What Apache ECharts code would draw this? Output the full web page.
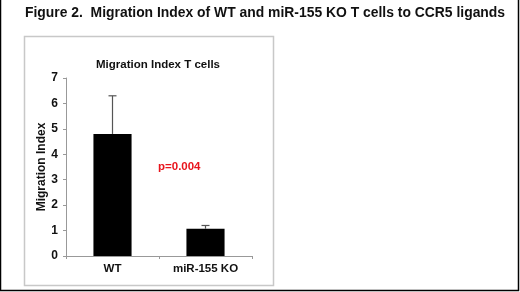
<!DOCTYPE html>
<html>
<head>
<meta charset="utf-8">
<script src="https://cdn.jsdelivr.net/npm/echarts@6/dist/echarts.min.js"></script>
<style>
  html, body { margin: 0; padding: 0; background: #fff; }
  #chart { width: 520px; height: 292px; }
</style>
</head>
<body>
<div id="chart"></div>
<script>
// data
var categories = ["WT", "miR-155 KO"];
var meanValues = [4.8, 1.07];
var upperErr = [6.3, 1.2];   // top of the error whisker
var yTicks = [0, 1, 2, 3, 4, 5, 6, 7];

var font = "Liberation Sans, Arial, sans-serif";
var chart = echarts.init(document.getElementById("chart"));

chart.setOption({
  backgroundColor: "#fff",
  animation: false,
  title: [
    {
      text: "Figure 2.  Migration Index of WT and miR-155 KO T cells to CCR5 ligands",
      left: 25, top: 6, padding: 0,
      textStyle: { fontFamily: font, fontSize: 13.9, fontWeight: "bold", color: "#111" }
    },
    {
      text: "Migration Index T cells",
      left: 158, top: 59, padding: 0, textAlign: "center",
      textStyle: { fontFamily: font, fontSize: 11.5, fontWeight: "bold", color: "#111" }
    },
    {
      text: "p=0.004",
      left: 158, top: 161, padding: 0,
      textStyle: { fontFamily: font, fontSize: 11.5, fontWeight: "bold", color: "#e8141c" }
    }
  ],
  grid: { left: 66, right: 268, top: 78, bottom: 36 },
  xAxis: {
    type: "category",
    data: categories,
    axisLine: { lineStyle: { color: "#999", width: 1 } },
    axisTick: { show: true, length: 3, lineStyle: { color: "#999" } },
    axisLabel: { margin: 7, fontFamily: font, fontSize: 11.5, fontWeight: "bold", color: "#111" }
  },
  yAxis: {
    type: "value",
    min: yTicks[0], max: yTicks[yTicks.length - 1], interval: 1,
    name: "Migration Index",
    nameLocation: "middle",
    nameGap: 17,
    nameTextStyle: { fontFamily: font, fontSize: 12, fontWeight: "bold", color: "#111" },
    axisLine: { show: true, lineStyle: { color: "#999", width: 1 } },
    axisTick: { show: true, length: 3, lineStyle: { color: "#999" } },
    splitLine: { show: false },
    axisLabel: { margin: 8, fontFamily: font, fontSize: 12, fontWeight: "bold", color: "#111" }
  },
  series: [
    {
      type: "bar",
      data: meanValues,
      barWidth: "41%",
      itemStyle: { color: "#000" },
      z: 2
    },
    {
      // upper-only error whiskers, Excel style
      type: "custom",
      z: 3,
      data: categories.map(function (c, i) { return [i, meanValues[i], upperErr[i]]; }),
      renderItem: function (params, api) {
        var base = api.coord([api.value(0), api.value(1)]);
        var top = api.coord([api.value(0), api.value(2)]);
        var half = 4;
        var st = { stroke: "#555", lineWidth: 1.2 };
        return {
          type: "group",
          children: [
            { type: "line", shape: { x1: base[0], y1: base[1], x2: top[0], y2: top[1] }, style: st },
            { type: "line", shape: { x1: top[0] - half, y1: top[1], x2: top[0] + half, y2: top[1] }, style: st }
          ]
        };
      }
    }
  ],
  graphic: [
    // inner chart frame
    { type: "rect", shape: { x: 24.5, y: 36.5, width: 249, height: 249 },
      style: { fill: "none", stroke: "#c8c8c8", lineWidth: 1.5 }, z: -1 },
    // outer figure border (left, right, bottom)
    { type: "polyline", shape: { points: [[0.5, 0], [0.5, 290.5], [518.5, 290.5], [518.5, 0]] },
      style: { fill: "none", stroke: "#000", lineWidth: 1.5 } }
  ]
});
</script>
</body>
</html>
